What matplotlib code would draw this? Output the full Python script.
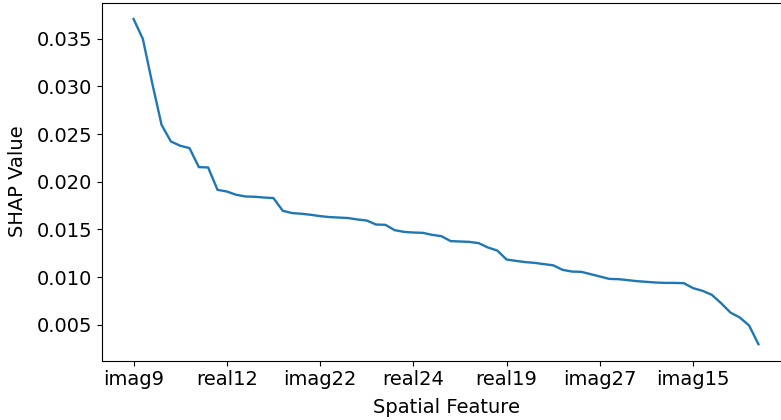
import matplotlib
matplotlib.use("Agg")
import matplotlib.pyplot as plt

# Mean |SHAP| per spatial feature, sorted in descending order
shap_values = [
    0.03707, 0.03497, 0.03035, 0.02598, 0.02423, 0.02378, 0.02353, 0.02154,
    0.02150, 0.01916, 0.01898, 0.01864, 0.01846, 0.01843, 0.01835, 0.01829,
    0.01696, 0.01672, 0.01665, 0.01654, 0.01640, 0.01630, 0.01625, 0.01620,
    0.01605, 0.01594, 0.01552, 0.01549, 0.01493, 0.01475, 0.01468, 0.01465,
    0.01444, 0.01430, 0.01378, 0.01374, 0.01370, 0.01357, 0.01311, 0.01279,
    0.01185, 0.01171, 0.01158, 0.01150, 0.01137, 0.01124, 0.01077, 0.01059,
    0.01056, 0.01032, 0.01007, 0.00982, 0.00979, 0.00969, 0.00958, 0.00951,
    0.00944, 0.00940, 0.00940, 0.00937, 0.00885, 0.00857, 0.00815, 0.00727,
    0.00629, 0.00577, 0.00493, 0.00297,
]

# Labelled features (every tenth position in the ranking)
tick_positions = [0, 10, 20, 30, 40, 50, 60]
tick_labels = ["imag9", "real12", "imag22", "real24", "real19", "imag27", "imag15"]

plt.rcParams["font.family"] = ["DejaVu Sans"]
plt.rcParams["font.size"] = 14

fig = plt.figure(figsize=(7.81, 4.20), dpi=100)
ax = fig.add_axes([102.3 / 781, 59.5 / 420, (789.7 - 102.3) / 781, (417.3 - 59.5) / 420])

ax.plot(range(len(shap_values)), shap_values, color="#1f77b4", linewidth=1.7)

ax.set_xticks(tick_positions)
ax.set_xticklabels(tick_labels)
ax.set_yticks([0.005, 0.010, 0.015, 0.020, 0.025, 0.030, 0.035])
ax.set_yticklabels(["0.005", "0.010", "0.015", "0.020", "0.025", "0.030", "0.035"])

ax.set_xlabel("Spatial Feature", labelpad=6)
ax.set_ylabel("SHAP Value", labelpad=7)

fig.savefig("out.png", dpi=100)
